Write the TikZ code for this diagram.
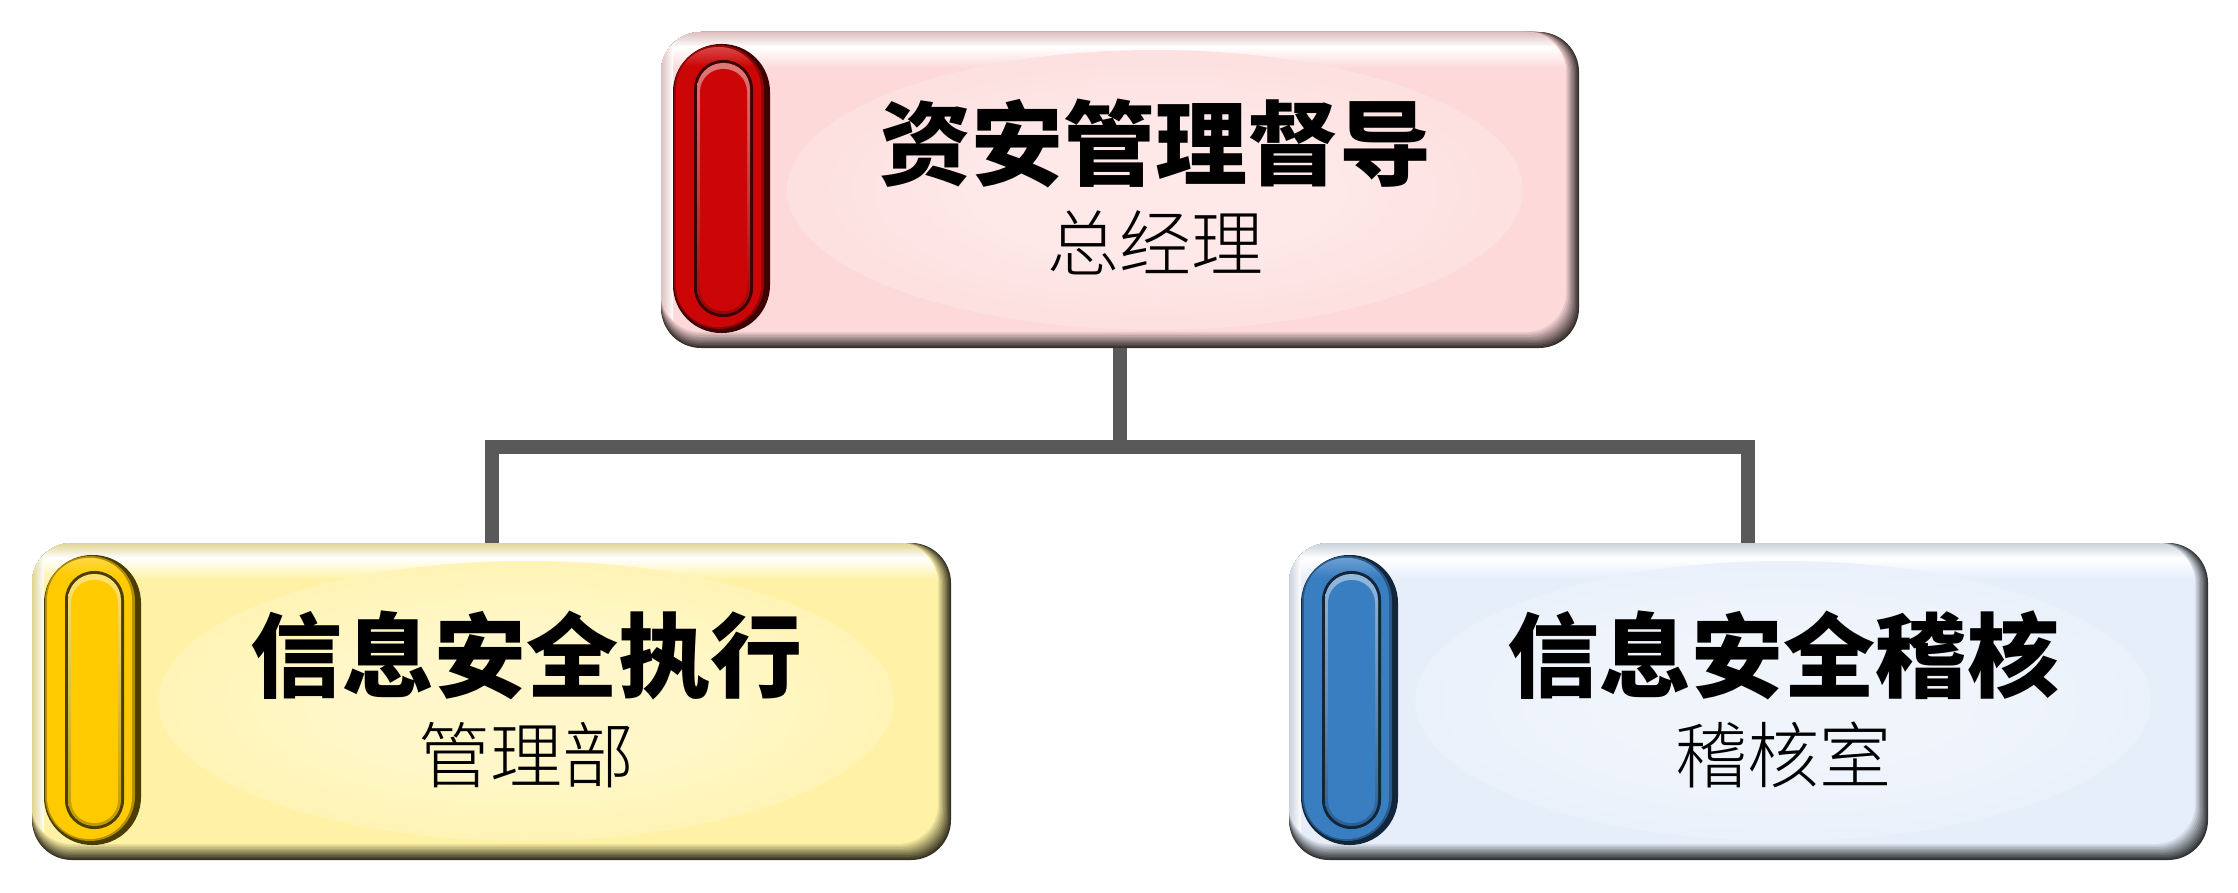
\documentclass[tikz,border=0pt]{standalone}
\usepackage{fontspec}
\newfontfamily\cjk{Noto Sans CJK SC}
\IfFontExistsTF{Noto Sans CJK SC Light}
  {\newfontfamily\cjklight{Noto Sans CJK SC Light}}
  {\newfontfamily\cjklight{Noto Sans CJK SC}}
\usetikzlibrary{calc}
\definecolor{pinkbase}{HTML}{FDD9D9}
\definecolor{redcap}{HTML}{CC0606}
\definecolor{yellowbase}{HTML}{FFF2A6}
\definecolor{yellowcap}{HTML}{FFCA00}
\definecolor{bluebase}{HTML}{E6EEFA}
\definecolor{bluecap}{HTML}{3A7EC2}
\definecolor{connector}{HTML}{595959}
\colorlet{glowin}{white}
\colorlet{glowout}{white}
\pgfdeclareradialshading[glowin,glowout]{textglow}{\pgfpoint{0bp}{0bp}}{color(0bp)=(glowin);color(12bp)=(glowin);color(35bp)=(glowout);color(50bp)=(glowout)}

\tikzset{
  conn/.style={draw=connector, line width=14pt},
  boxnode/.style={minimum width=918pt, minimum height=316pt, inner sep=0pt, outer sep=0pt},
  titletext/.style={anchor=base, inner sep=0pt, font=\cjk\bfseries\fontsize{92}{96}\selectfont},
  subtext/.style={anchor=base, inner sep=0pt, font=\cjklight\fontsize{72}{76}\selectfont},
}

% capsule on the left of a box: x, ytop, ybottom, colour
\newcommand\capsulebar[4]{%
  \fill[#4!30!black] (#1,#2) [rounded corners=48] rectangle ({#1+97},#3);
  \fill[#4!70!black] ({#1+1},{#2+1}) [rounded corners=45] rectangle ({#1+91},{#3-4});
  \fill[#4] ({#1+3},{#2+3}) [rounded corners=42] rectangle ({#1+88},{#3-6});
  \begin{scope}
    \clip ({#1+3},{#2+3}) [rounded corners=42] rectangle ({#1+88},{#3-6});
    \shade[top color=#4!70!white, bottom color=#4] (#1,#2) rectangle ({#1+97},{#2+22});
  \end{scope}
  \fill[#4!30!black] ({#1+21},{#2+16}) [rounded corners=29] rectangle ({#1+80},{#3-16});
  \shade[top color=#4!55!white, bottom color=#4!75!black] ({#1+24},{#2+19}) [rounded corners=26] rectangle ({#1+77},{#3-19});
  \fill[#4] ({#1+27},{#2+25}) [rounded corners=23] rectangle ({#1+74},{#3-22});
}

% bevelled box: x1,y1,x2,y2, base, capsule colour, title, subtitle, name
\newcommand\orgbox[9]{%
  \colorlet{bb}{#5}%
  \fill[bb!22!black] (#1,#2) [rounded corners=40] rectangle (#3,#4);
  \foreach \i in {1,...,10}{%
    \pgfmathsetmacro\pc{22+\i*7.8}%
    \fill[bb!\pc!black] (#1,#2) [rounded corners=40] rectangle ({#3-1.3*\i},{#4-1.6*\i});
  }
  \begin{scope}
    \clip (#1,#2) [rounded corners=40] rectangle ({#3-13},{#4-16});
    \shade[top color=bb!88!black, bottom color=white] (#1,#2) rectangle (#3,{#2+15});
    \shade[top color=white, bottom color=bb] (#1,{#2+15}) rectangle (#3,{#2+36});
    \shade[left color=bb!88!black, right color=white] (#1,#2) rectangle ({#1+12},#4);
  \end{scope}
  \colorlet{glowin}{bb!60!white}%
  \colorlet{glowout}{bb}%
  \shade[shading=textglow] ({#1+494},{#2+158}) ellipse [x radius=368, y radius=140];
  \capsulebar{#1+12}{#2+12}{#4-15}{#6}
  \node[titletext] (#9t) at ({#1+494},{#2+147}) {#7};
  \node[subtext] (#9s) at ({#1+494},{#2+239}) {#8};
}

\begin{document}
\begin{tikzpicture}[x=1pt,y=-1pt]
\useasboundingbox (0,0) rectangle (2238,893);
\fill[white] (0,0) rectangle (2238,893);

\node[boxnode] (topbox) at (1120,190) {};
\node[boxnode] (leftbox) at (491.5,701.5) {};
\node[boxnode] (rightbox) at (1748,701.5) {};
\coordinate (jn) at (1120,446.5);

\draw[conn] (topbox.south) -- (jn);
\draw[conn] (leftbox.north) |- (jn) -| (rightbox.north);

\orgbox{661}{32}{1579}{348}{pinkbase}{redcap}{资安管理督导}{总经理}{top}
\orgbox{32}{543}{951}{860}{yellowbase}{yellowcap}{信息安全执行}{管理部}{left}
\orgbox{1289}{543}{2208}{860}{bluebase}{bluecap}{信息安全稽核}{稽核室}{right}
\end{tikzpicture}
\end{document}
